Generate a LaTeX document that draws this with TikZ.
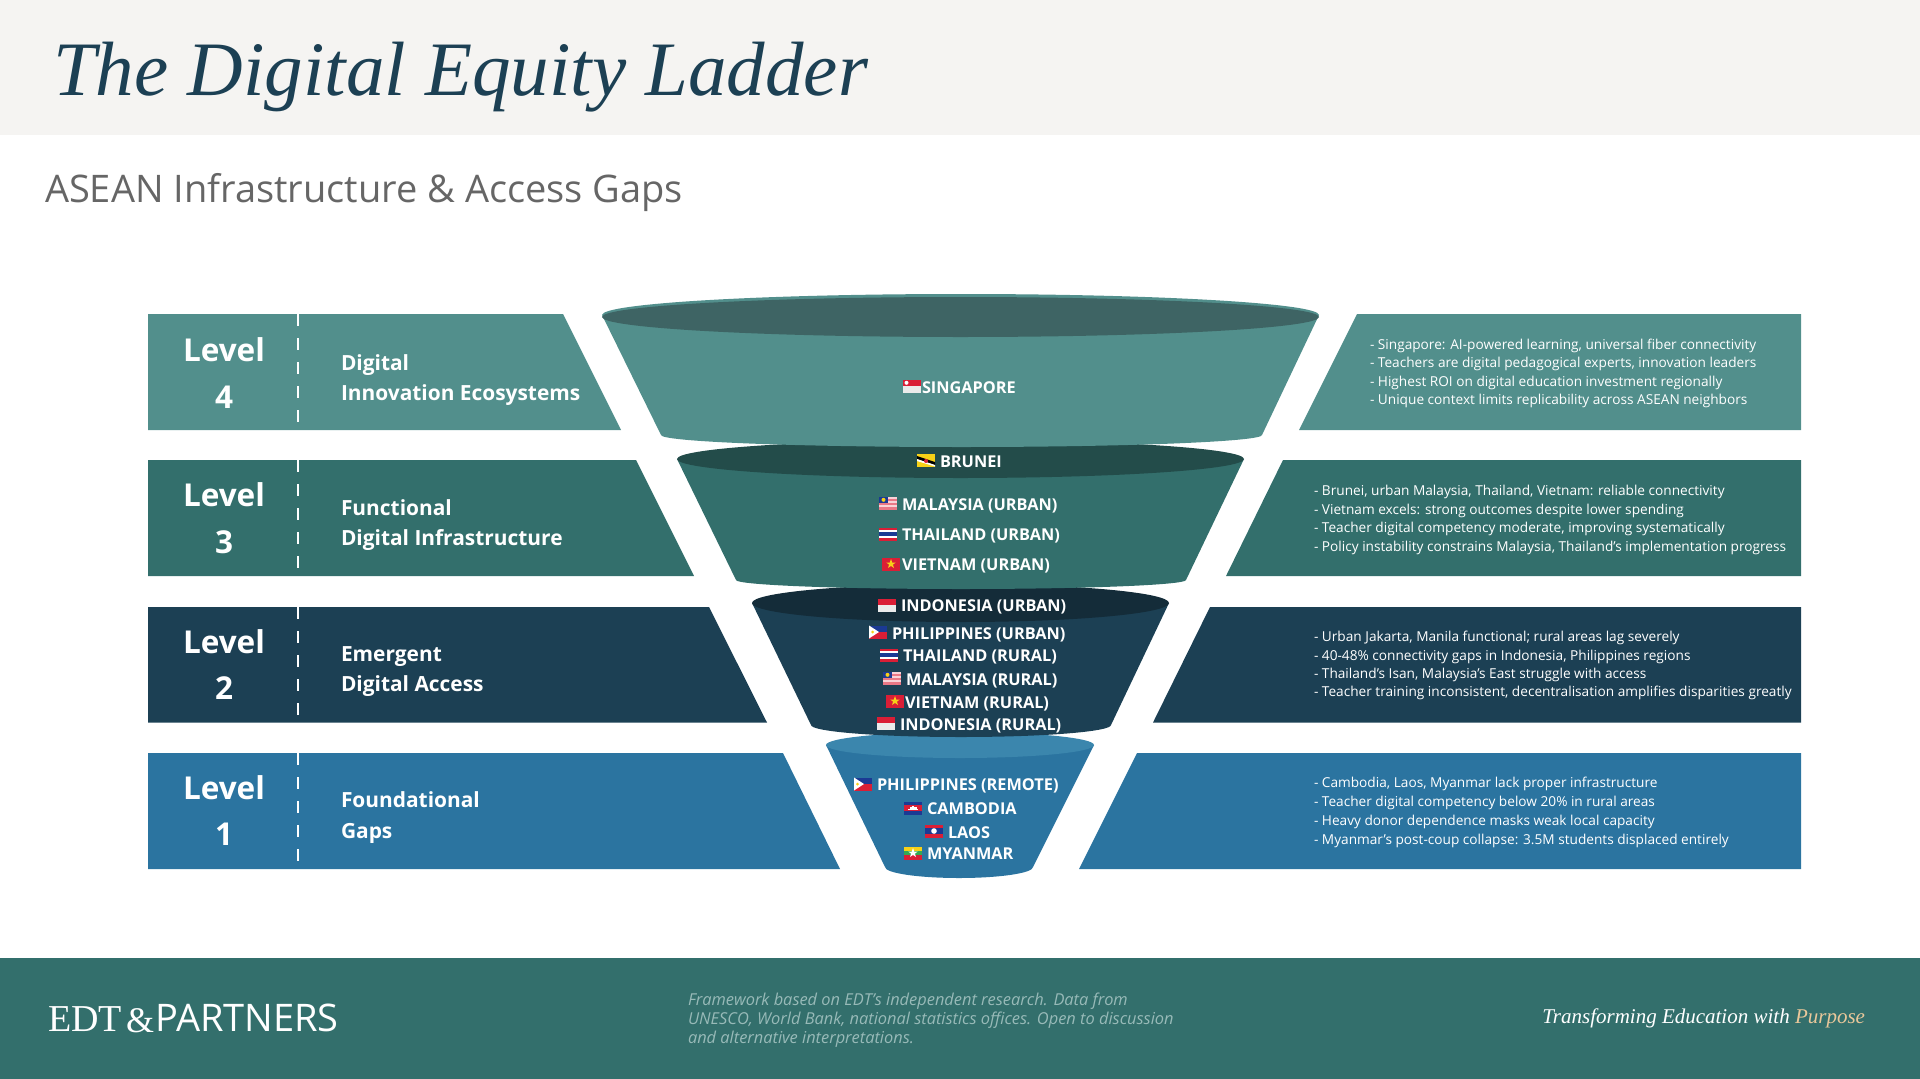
\documentclass[tikz,border=0pt]{standalone}
\usepackage{fontspec}
\setmainfont{Open Sans}
\newfontfamily\titlefont{Liberation Serif}
\definecolor{headbg}{HTML}{F5F4F2}
\definecolor{inkblue}{HTML}{1C4054}
\definecolor{subgrey}{HTML}{666666}
\definecolor{levelfour}{HTML}{528F8C}
\definecolor{levelthree}{HTML}{336F6C}
\definecolor{leveltwo}{HTML}{1C4054}
\definecolor{levelone}{HTML}{2B74A0}
\definecolor{rimfour}{HTML}{3E6464}
\definecolor{rimthree}{HTML}{234C4A}
\definecolor{rimtwo}{HTML}{142C39}
\definecolor{rimone}{HTML}{3B86AD}
\definecolor{notegrey}{HTML}{98BAB8}
\definecolor{purposetan}{HTML}{E9C79A}
\definecolor{fred}{HTML}{DA1E36}
\definecolor{fblue}{HTML}{1B3A94}
\definecolor{fyellow}{HTML}{F7D117}
\definecolor{fgreen}{HTML}{34A853}
\tikzset{
  every node/.style={inner sep=0pt, outer sep=0pt},
  lvl/.style={text=white, font=\fontsize{31.5}{34}\selectfont\bfseries, anchor=center},
  tier/.style={text=white, font=\fontsize{20.9}{24}\selectfont\bfseries, anchor=west, text height=16pt, text depth=5pt, yshift=-3pt},
  info/.style={text=white, font=\fontsize{13.66}{16}\selectfont, anchor=west, text height=10pt, text depth=3pt, yshift=-1.5pt},
  land/.style={text=white, font=\fontsize{16.3}{18}\selectfont\bfseries, anchor=west, text height=12pt, text depth=4pt, yshift=-2pt},
  note/.style={text=notegrey, font=\fontsize{16.4}{18}\selectfont\itshape, anchor=west, text height=12pt, text depth=4pt, yshift=-1pt},
  divider/.style={white, line width=2pt, dash pattern=on 12pt off 12pt},
}
\newcommand{\flagat}[3]{\begin{scope}[shift={(#1,#2)}]#3\end{scope}}
\newcommand{\starpath}{(0,-5) -- (1.2,-1.5) -- (4.8,-1.5) -- (1.9,0.6) -- (3,4) -- (0,1.9) -- (-3,4) -- (-1.9,0.6) -- (-4.8,-1.5) -- (-1.2,-1.5) -- cycle}
\newcommand{\flagsg}{\fill[fred] (-9,-6.5) rectangle (9,0); \fill[white!92!black] (-9,0) rectangle (9,6.5);
  \fill[white] (-5.5,-3.2) circle (2);}
\newcommand{\flagid}{\fill[fred] (-9,-6.5) rectangle (9,0); \fill[white!92!black] (-9,0) rectangle (9,6.5);}
\newcommand{\flagbn}{\fill[fyellow] (-9,-6.5) rectangle (9,6.5);
  \fill[black] (-9,-4) -- (-9,-1) -- (9,5) -- (9,2) -- cycle;
  \fill[white] (-9,-1) -- (-9,1) -- (9,6.5) -- (9,5) -- cycle;
  \fill[fred] (0,1) circle (2);}
\newcommand{\flagmy}{\fill[white!80!fred] (-9,-6.5) rectangle (9,6.5);
  \fill[fred!60!white] (-9,-4) rectangle (9,-2); \fill[fred!60!white] (-9,0) rectangle (9,2); \fill[fred!60!white] (-9,4) rectangle (9,6.5);
  \fill[fblue] (-9,-6.5) rectangle (0,0); \fill[fyellow] (-4.5,-3.2) circle (2);}
\newcommand{\flagth}{\fill[fred] (-9,-6.5) rectangle (9,6.5); \fill[white] (-9,-4.3) rectangle (9,4.3); \fill[fblue] (-9,-2.2) rectangle (9,2.2);}
\newcommand{\flagvn}{\fill[fred] (-9,-6.5) rectangle (9,6.5); \fill[fyellow] \starpath;}
\newcommand{\flagph}{\fill[fblue] (-9,-6.5) rectangle (9,0); \fill[fred] (-9,0) rectangle (9,6.5);
  \fill[white] (-9,-6.5) -- (1,0) -- (-9,6.5) -- cycle; \fill[fyellow] (-5.5,0) circle (1.5);}
\newcommand{\flagkh}{\fill[fblue] (-9,-6.5) rectangle (9,6.5); \fill[fred] (-9,-3.2) rectangle (9,3.2);
  \fill[white] (-5,2.4) rectangle (5,1); \fill[white] (-3.5,1) rectangle (3.5,-1); \fill[white] (-1,-1) rectangle (1,-2.4);}
\newcommand{\flagla}{\fill[fred] (-9,-6.5) rectangle (9,6.5); \fill[fblue] (-9,-3.2) rectangle (9,3.2); \fill[white] (0,0) circle (2.8);}
\newcommand{\flagmm}{\fill[fyellow] (-9,-6.5) rectangle (9,-2.2); \fill[fgreen] (-9,-2.2) rectangle (9,2.2); \fill[fred] (-9,2.2) rectangle (9,6.5);
  \fill[white] \starpath;}
\begin{document}
\begin{tikzpicture}[x=1pt, y=-1pt]
  \useasboundingbox (0,0) rectangle (1920,1079);
  % header and footer
  \fill[headbg] (0,0) rectangle (1920,135);
  \fill[levelthree] (0,958) rectangle (1920,1079);
  \node[anchor=west, text=inkblue, font=\fontsize{77}{90}\selectfont\titlefont\itshape] (title) at (53,77) {The Digital Equity Ladder};
  \node[anchor=west, text=subgrey, font=\fontsize{38}{42}\selectfont] (subtitle) at (45,192.5) {ASEAN Infrastructure \& Access Gaps};

  % side bands
  \fill[levelfour] (148,314) -- (563,314) -- (621,430) -- (148,430) -- cycle;
  \fill[levelthree] (148,460) -- (636,460) -- (694,576) -- (148,576) -- cycle;
  \fill[leveltwo] (148,607) -- (709,607) -- (767,722.5) -- (148,722.5) -- cycle;
  \fill[levelone] (148,753) -- (783,753) -- (840,869) -- (148,869) -- cycle;
  \fill[levelfour] (1357,314) -- (1801,314) -- (1801,430) -- (1299,430) -- cycle;
  \fill[levelthree] (1283,460) -- (1801,460) -- (1801,576) -- (1226,576) -- cycle;
  \fill[leveltwo] (1210,607) -- (1801,607) -- (1801,722.5) -- (1153,722.5) -- cycle;
  \fill[levelone] (1137,753) -- (1801,753) -- (1801,869) -- (1079,869) -- cycle;
  \draw[divider] (298,314) -- (298,430);
  \draw[divider] (298,460) -- (298,576);
  \draw[divider] (298,607) -- (298,722.5);
  \draw[divider] (298,753) -- (298,869);

  % funnel, bottom piece first
  \fill[levelone] (826,745) -- (885,867) arc[start angle=180, end angle=0, x radius=74, y radius=11] -- (1094,745) -- cycle;
  \fill[rimone] (960,745) ellipse[x radius=134, y radius=13];
  \fill[leveltwo] (752,603) -- (811,725) arc[start angle=180, end angle=0, x radius=150, y radius=12] -- (1169,603) -- cycle;
  \fill[rimtwo] (960.5,603) ellipse[x radius=208.5, y radius=19];
  \fill[levelthree] (677,459) -- (736,580) arc[start angle=180, end angle=0, x radius=225, y radius=9] -- (1244,459) -- cycle;
  \fill[rimthree] (960.5,459) ellipse[x radius=283.5, y radius=19];
  \fill[levelfour] (602,315) arc[start angle=180, end angle=360, x radius=358.5, y radius=21] -- (1262,435) arc[start angle=0, end angle=180, x radius=300.5, y radius=12] -- cycle;
  \fill[rimfour] (960.5,317) ellipse[x radius=358.5, y radius=20];

  % level labels
  \node[lvl] (lvlfour) at (224,350) {Level};
  \node[lvl] (numfour) at (224,397) {4};
  \node[lvl] (lvlthree) at (224,495) {Level};
  \node[lvl] (numthree) at (224,542) {3};
  \node[lvl] (lvltwo) at (224,642) {Level};
  \node[lvl] (numtwo) at (224,688) {2};
  \node[lvl] (lvlone) at (224,788) {Level};
  \node[lvl] (numone) at (224,834) {1};
  \node[tier] (tierfoura) at (341,362) {Digital};
  \node[tier] (tierfourb) at (341,392) {Innovation Ecosystems};
  \node[tier] (tierthreea) at (341,507) {Functional};
  \node[tier] (tierthreeb) at (341,537) {Digital Infrastructure};
  \node[tier] (tiertwoa) at (341,653) {Emergent};
  \node[tier] (tiertwob) at (341,683) {Digital Access};
  \node[tier] (tieronea) at (341,799) {Foundational};
  \node[tier] (tieroneb) at (341,830) {Gaps};

  % countries
  \node[land] (sg) at (922,387) {SINGAPORE};
  \node[land] (bn) at (940,461) {BRUNEI};
  \node[land] (myu) at (902,504) {MALAYSIA (URBAN)};
  \node[land] (thu) at (902,534) {THAILAND (URBAN)};
  \node[land] (vnu) at (902,564) {VIETNAM (URBAN)};
  \node[land] (idu) at (901,605) {INDONESIA (URBAN)};
  \node[land] (phu) at (892,633) {PHILIPPINES (URBAN)};
  \node[land] (thr) at (903,655) {THAILAND (RURAL)};
  \node[land] (myr) at (906,679) {MALAYSIA (RURAL)};
  \node[land] (vnr) at (905,702) {VIETNAM (RURAL)};
  \node[land] (idr) at (900,724) {INDONESIA (RURAL)};
  \node[land] (phr) at (877,784) {PHILIPPINES (REMOTE)};
  \node[land] (kh) at (927,808) {CAMBODIA};
  \node[land] (la) at (948,832) {LAOS};
  \node[land] (mm) at (927,853) {MYANMAR};
  \flagat{912}{386}{\flagsg}
  \flagat{926}{460}{\flagbn}
  \flagat{888}{503}{\flagmy}
  \flagat{888}{534}{\flagth}
  \flagat{891}{564}{\flagvn}
  \flagat{887}{605}{\flagid}
  \flagat{878}{632}{\flagph}
  \flagat{889}{655}{\flagth}
  \flagat{892}{678}{\flagmy}
  \flagat{895}{701}{\flagvn}
  \flagat{886}{723}{\flagid}
  \flagat{863}{784}{\flagph}
  \flagat{913}{808}{\flagkh}
  \flagat{934}{831}{\flagla}
  \flagat{913}{853}{\flagmm}

  % right hand notes
  \node[info] (sga) at (1370,344) {- Singapore: AI-powered learning, universal fiber connectivity};
  \node[info] (sgb) at (1370,362.5) {- Teachers are digital pedagogical experts, innovation leaders};
  \node[info] (sgc) at (1370,381) {- Highest ROI on digital education investment regionally};
  \node[info] (sgd) at (1370,399) {- Unique context limits replicability across ASEAN neighbors};
  \node[info] (fna) at (1314,490.5) {- Brunei, urban Malaysia, Thailand, Vietnam: reliable connectivity};
  \node[info] (fnb) at (1314,509) {- Vietnam excels: strong outcomes despite lower spending};
  \node[info] (fnc) at (1314,527) {- Teacher digital competency moderate, improving systematically};
  \node[info] (fnd) at (1314,546) {- Policy instability constrains Malaysia, Thailand's implementation progress};
  \node[info] (ema) at (1314,636) {- Urban Jakarta, Manila functional; rural areas lag severely};
  \node[info] (emb) at (1314,655) {- 40-48\% connectivity gaps in Indonesia, Philippines regions};
  \node[info] (emc) at (1314,673) {- Thailand's Isan, Malaysia's East struggle with access};
  \node[info] (emd) at (1314,691) {- Teacher training inconsistent, decentralisation amplifies disparities greatly};
  \node[info] (gpa) at (1314,782.5) {- Cambodia, Laos, Myanmar lack proper infrastructure};
  \node[info] (gpb) at (1314,801.5) {- Teacher digital competency below 20\% in rural areas};
  \node[info] (gpc) at (1314,820) {- Heavy donor dependence masks weak local capacity};
  \node[info] (gpd) at (1314,839) {- Myanmar's post-coup collapse: 3.5M students displaced entirely};

  % footer text
  \node[anchor=base west, text=white, font=\fontsize{38}{40}\selectfont\titlefont] (brandedt) at (48,1031.5) {EDT};
  \node[anchor=base west, text=white, font=\fontsize{36}{38}\selectfont\titlefont] (brandamp) at (126,1032.5) {\&};
  \node[anchor=base west, text=white, font=\fontsize{38}{40}\selectfont] (brandname) at (155,1031.5) {PARTNERS};
  \node[note] (notea) at (688,1000.5) {Framework based on EDT's independent research. Data from};
  \node[note] (noteb) at (688,1019) {UNESCO, World Bank, national statistics offices. Open to discussion};
  \node[note] (notec) at (688,1038) {and alternative interpretations.};
  \node[anchor=east, text=white, font=\fontsize{21}{26}\selectfont\titlefont\itshape] (motto) at (1865,1018) {Transforming Education with \textcolor{purposetan}{Purpose}};
\end{tikzpicture}
\end{document}
